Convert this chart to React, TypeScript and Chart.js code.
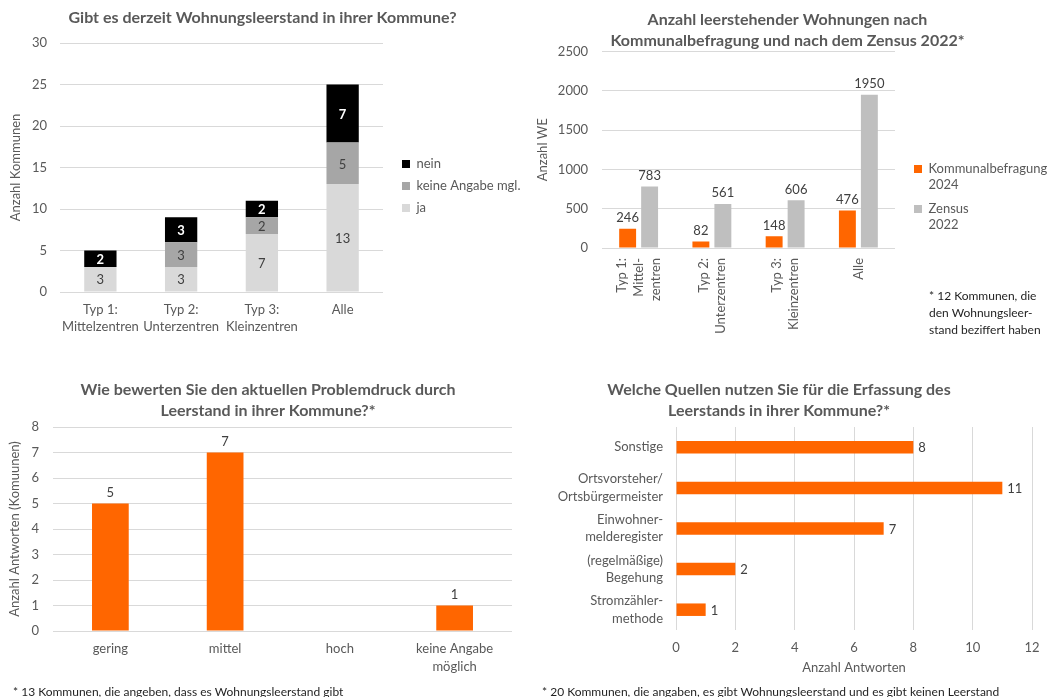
import React, { useEffect, useRef } from 'react';
import { Chart, registerables } from 'chart.js';

Chart.register(...registerables);

const FONT = 'Lato, "Open Sans", "DejaVu Sans", sans-serif';
const TEXT = '#595959';
const VALUE = '#404040';
const GRID = '#D9D9D9';
const ORANGE = '#FF6600';

// ---------- Panel 1: Gibt es derzeit Wohnungsleerstand ----------
const p1Title = 'Gibt es derzeit Wohnungsleerstand in ihrer Kommune?';
const p1Categories = [['Typ 1:', 'Mittelzentren'], ['Typ 2:', 'Unterzentren'], ['Typ 3:', 'Kleinzentren'], 'Alle'];
const p1Ja = [3, 3, 7, 13];
const p1KeineAngabe = [0, 3, 2, 5];
const p1Nein = [2, 3, 2, 7];
const p1SeriesNames = ['ja', 'keine Angabe mgl.', 'nein'];
const p1YTitle = 'Anzahl Kommunen';
const p1YMax = 30;
const p1YStep = 5;

// ---------- Panel 2: Anzahl leerstehender Wohnungen ----------
const p2Title = ['Anzahl leerstehender Wohnungen nach', 'Kommunalbefragung und nach dem Zensus 2022*'];
const p2Categories = [['Typ 1:', 'Mittel-', 'zentren'], ['Typ 2:', 'Unterzentren'], ['Typ 3:', 'Kleinzentren'], 'Alle'];
const p2Kommunal = [246, 82, 148, 476];
const p2Zensus = [783, 561, 606, 1950];
const p2Legend = [['Kommunalbefragung', '2024'], ['Zensus', '2022']];
const p2YTitle = 'Anzahl WE';
const p2YMax = 2500;
const p2YStep = 500;
const p2Note = ['* 12 Kommunen, die', 'den Wohnungsleer-', 'stand beziffert haben'];

// ---------- Panel 3: Problemdruck ----------
const p3Title = ['Wie bewerten Sie den aktuellen Problemdruck durch', 'Leerstand in ihrer Kommune?*'];
const p3Categories = ['gering', 'mittel', 'hoch', ['keine Angabe', 'möglich']];
const p3Values = [5, 7, 0, 1];
const p3YTitle = 'Anzahl Antworten (Komuunen)';
const p3YMax = 8;
const p3YStep = 1;
const p3Note = '* 13 Kommunen, die angeben, dass es Wohnungsleerstand gibt';

// ---------- Panel 4: Quellen ----------
const p4Title = ['Welche Quellen nutzen Sie für die Erfassung des', 'Leerstands in ihrer Kommune?*'];
const p4Categories = [
  'Sonstige',
  ['Ortsvorsteher/', 'Ortsbürgermeister'],
  ['Einwohner-', 'melderegister'],
  ['(regelmäßige)', 'Begehung'],
  ['Stromzähler-', 'methode'],
];
const p4Values = [8, 11, 7, 2, 1];
const p4XTitle = 'Anzahl Antworten';
const p4XMax = 12;
const p4XStep = 2;
const p4Note = '* 20 Kommunen, die angaben, es gibt Wohnungsleerstand und es gibt keinen Leerstand';

Chart.defaults.font.family = FONT;
Chart.defaults.color = TEXT;

const tickFont = (lh: number) => ({ family: FONT, size: 13, lineHeight: lh });
const plainNumber = (v: any) => String(v);

function valueLabels(id: string, specs: any[]) {
  return {
    id,
    afterDatasetsDraw(chart: any) {
      const ctx = chart.ctx;
      chart.data.datasets.forEach((ds: any, di: number) => {
        const spec = specs[di];
        if (!spec) return;
        const meta = chart.getDatasetMeta(di);
        meta.data.forEach((el: any, i: number) => {
          const v = ds.data[i];
          if (!v) return;
          ctx.save();
          ctx.font = `${spec.bold ? 'bold ' : ''}13px ${FONT}`;
          ctx.fillStyle = spec.color;
          ctx.textBaseline = 'middle';
          if (spec.pos === 'center') {
            ctx.textAlign = 'center';
            const p = el.getCenterPoint();
            ctx.fillText(String(v), p.x, p.y + 1);
          } else if (spec.pos === 'top') {
            ctx.textAlign = 'center';
            ctx.fillText(String(v), el.x, el.y - 11);
          } else {
            ctx.textAlign = 'left';
            ctx.fillText(String(v), el.x + 5, el.y + 1);
          }
          ctx.restore();
        });
      });
    },
  };
}

const centerRotatedLabels = {
  id: 'centerRotatedLabels',
  beforeDraw(chart: any) {
    const scale = chart.scales.x;
    if (!scale || typeof scale.getLabelItems !== 'function') return;
    const items = scale.getLabelItems();
    items.forEach((it: any) => {
      if (it.__centered) return;
      const n = Array.isArray(it.label) ? it.label.length : 1;
      const lh = it.font && it.font.lineHeight ? it.font.lineHeight : 17;
      if (it.options && it.options.translation) it.options.translation[0] -= ((n - 1) * lh) / 2;
      it.__centered = true;
    });
  },
};

const spacer = (w: number) => ({
  type: 'linear',
  position: 'right',
  display: true,
  grid: { display: false, drawTicks: false },
  border: { display: false },
  ticks: { display: false },
  afterFit: (s: any) => {
    s.width = w;
  },
});

function titleOpts(text: any, padTop: number, padBottom: number, lh: number) {
  return {
    display: true,
    text,
    color: TEXT,
    font: { family: FONT, size: 16, weight: 'bold', lineHeight: lh },
    padding: { top: padTop, bottom: padBottom },
  };
}

export default function App() {
  const r1 = useRef<HTMLCanvasElement>(null);
  const r2 = useRef<HTMLCanvasElement>(null);
  const r3 = useRef<HTMLCanvasElement>(null);
  const r4 = useRef<HTMLCanvasElement>(null);

  useEffect(() => {
    const charts: any[] = [];

    // Panel 1
    charts.push(
      new Chart(r1.current as any, {
        type: 'bar',
        data: {
          labels: p1Categories as any,
          datasets: [
            { label: p1SeriesNames[0], data: p1Ja, backgroundColor: '#D9D9D9', borderWidth: 0 },
            { label: p1SeriesNames[1], data: p1KeineAngabe, backgroundColor: '#A6A6A6', borderWidth: 0 },
            { label: p1SeriesNames[2], data: p1Nein, backgroundColor: '#000000', borderWidth: 0 },
          ],
        },
        options: {
          responsive: false,
          animation: false,
          layout: { padding: 0 },
          datasets: { bar: { barPercentage: 0.8, categoryPercentage: 0.5 } },
          plugins: {
            title: titleOpts(p1Title, 8.4, 15.4, 1.2),
            legend: {
              position: 'right',
              reverse: true,
              maxWidth: 132,
              labels: { boxWidth: 8, boxHeight: 8, padding: 9, color: TEXT, font: { family: FONT, size: 13 } },
            },
            tooltip: { enabled: false },
          },
          scales: {
            x: {
              stacked: true,
              grid: { display: false, drawTicks: false },
              border: { display: false },
              ticks: { padding: 9.5, color: TEXT, font: tickFont(1.3), maxRotation: 0, autoSkip: false },
              afterFit: (s: any) => {
                s.height = 80;
              },
            },
            y: {
              stacked: true,
              min: 0,
              max: p1YMax,
              ticks: { stepSize: p1YStep, padding: 13, color: TEXT, font: tickFont(1.3), callback: plainNumber },
              grid: { color: GRID, drawTicks: false },
              border: { display: false },
              title: { display: true, text: p1YTitle, color: TEXT, font: { family: FONT, size: 13, lineHeight: 1.3 }, padding: { top: 7.5 } },
              afterFit: (s: any) => {
                s.width = 60;
              },
            },
            spacer: spacer(10),
          } as any,
        },
        plugins: [
          valueLabels('p1labels', [
            { pos: 'center', color: VALUE },
            { pos: 'center', color: VALUE },
            { pos: 'center', color: '#FFFFFF', bold: true },
          ]),
        ],
      } as any)
    );

    // Panel 2
    charts.push(
      new Chart(r2.current as any, {
        type: 'bar',
        data: {
          labels: p2Categories as any,
          datasets: [
            { label: p2Legend[0].join(' '), data: p2Kommunal, backgroundColor: ORANGE, borderWidth: 0 },
            { label: p2Legend[1].join(' '), data: p2Zensus, backgroundColor: '#BFBFBF', borderWidth: 0 },
          ],
        },
        options: {
          responsive: false,
          animation: false,
          layout: { padding: 0 },
          datasets: { bar: { barPercentage: 0.77, categoryPercentage: 0.6 } },
          plugins: {
            title: titleOpts(p2Title, 9.5, 0, 1.3125),
            legend: {
              position: 'right',
              maxWidth: 144,
              labels: {
                boxWidth: 8,
                boxHeight: 8,
                padding: 8,
                color: TEXT,
                font: { family: FONT, size: 13, lineHeight: 16 / 13 },
                generateLabels: (chart: any) => {
                  const items = (Chart as any).defaults.plugins.legend.labels.generateLabels(chart);
                  return items.map((it: any, i: number) => ({ ...it, text: p2Legend[i] }));
                },
              },
            },
            tooltip: { enabled: false },
          },
          scales: {
            x: {
              grid: { display: false, drawTicks: false },
              border: { display: false },
              ticks: { padding: 10, color: TEXT, font: tickFont(1.3), minRotation: 90, maxRotation: 90, autoSkip: false },
              afterFit: (s: any) => {
                s.height = 149;
              },
            },
            y: {
              min: 0,
              max: p2YMax,
              ticks: { stepSize: p2YStep, padding: 14, color: TEXT, font: tickFont(1.3), callback: plainNumber },
              grid: { color: GRID, drawTicks: false },
              border: { display: false },
              title: { display: true, text: p2YTitle, color: TEXT, font: { family: FONT, size: 13, lineHeight: 1.3 }, padding: { top: 9.5 } },
              afterFit: (s: any) => {
                s.width = 77;
              },
            },
            spacer: spacer(11),
          } as any,
        },
        plugins: [
          centerRotatedLabels,
          valueLabels('p2labels', [
            { pos: 'top', color: VALUE },
            { pos: 'top', color: VALUE },
          ]),
        ],
      } as any)
    );

    // Panel 3
    charts.push(
      new Chart(r3.current as any, {
        type: 'bar',
        data: {
          labels: p3Categories as any,
          datasets: [{ label: 'Anzahl', data: p3Values, backgroundColor: ORANGE, borderWidth: 0 }],
        },
        options: {
          responsive: false,
          animation: false,
          layout: { padding: 0 },
          datasets: { bar: { barPercentage: 0.8, categoryPercentage: 0.4 } },
          plugins: {
            title: titleOpts(p3Title, 9.5, 5.5, 1.3125),
            legend: { display: false },
            tooltip: { enabled: false },
          },
          scales: {
            x: {
              grid: { display: false, drawTicks: false },
              border: { display: false },
              ticks: { padding: 9, color: TEXT, font: tickFont(1.35), maxRotation: 0, autoSkip: false },
              afterFit: (s: any) => {
                s.height = 59;
              },
            },
            y: {
              min: 0,
              max: p3YMax,
              ticks: { stepSize: p3YStep, padding: 14, color: TEXT, font: tickFont(1.3), callback: plainNumber },
              grid: { color: GRID, drawTicks: false },
              border: { display: false },
              title: { display: true, text: p3YTitle, color: TEXT, font: { family: FONT, size: 13, lineHeight: 1.3 }, padding: { top: 6.5 } },
              afterFit: (s: any) => {
                s.width = 53;
              },
            },
            spacer: spacer(24),
          } as any,
        },
        plugins: [valueLabels('p3labels', [{ pos: 'top', color: VALUE }])],
      } as any)
    );

    // Panel 4
    charts.push(
      new Chart(r4.current as any, {
        type: 'bar',
        data: {
          labels: p4Categories as any,
          datasets: [{ label: 'Anzahl', data: p4Values, backgroundColor: ORANGE, borderWidth: 0 }],
        },
        options: {
          indexAxis: 'y',
          responsive: false,
          animation: false,
          layout: { padding: 0 },
          datasets: { bar: { barPercentage: 0.8, categoryPercentage: 0.385 } },
          plugins: {
            title: titleOpts(p4Title, 9.5, 5.5, 1.3125),
            legend: { display: false },
            tooltip: { enabled: false },
          },
          scales: {
            x: {
              min: 0,
              max: p4XMax,
              ticks: { stepSize: p4XStep, padding: 9.5, color: TEXT, font: tickFont(1.3), callback: plainNumber },
              grid: { color: GRID, drawTicks: false },
              border: { display: false },
              title: { display: true, text: p4XTitle, color: TEXT, font: { family: FONT, size: 13, lineHeight: 1.3 }, padding: { top: 0, bottom: 8.5 } },
              afterFit: (s: any) => {
                s.height = 55;
              },
            },
            y: {
              grid: { display: false, drawTicks: false },
              border: { display: false },
              ticks: { padding: 13, color: TEXT, font: tickFont(1.35), autoSkip: false },
              afterFit: (s: any) => {
                s.width = 168;
              },
            },
            spacer: spacer(18),
          } as any,
        },
        plugins: [valueLabels('p4labels', [{ pos: 'right', color: VALUE }])],
      } as any)
    );

    return () => charts.forEach((c) => c.destroy());
  }, []);

  const noteStyle: any = { position: 'absolute', fontFamily: FONT, fontSize: 12, color: '#1F1F1F', whiteSpace: 'nowrap' };

  return (
    <div style={{ position: 'absolute', left: 0, top: 0, width: 1050, height: 697, background: '#FFFFFF', overflow: 'hidden' }}>
      <canvas ref={r1} width={525} height={372} style={{ position: 'absolute', left: 0, top: 0 }} />
      <canvas ref={r2} width={525} height={397} style={{ position: 'absolute', left: 525, top: 0 }} />
      <canvas ref={r3} width={536} height={320} style={{ position: 'absolute', left: 0, top: 370 }} />
      <canvas ref={r4} width={542} height={315} style={{ position: 'absolute', left: 508, top: 370 }} />
      <div style={{ ...noteStyle, left: 929, top: 287, lineHeight: '17px' }}>
        {p2Note.map((l, i) => (
          <div key={i}>{l}</div>
        ))}
      </div>
      <div style={{ ...noteStyle, left: 13, top: 684, lineHeight: '16px' }}>{p3Note}</div>
      <div style={{ ...noteStyle, left: 542, top: 684, lineHeight: '16px' }}>{p4Note}</div>
    </div>
  );
}
